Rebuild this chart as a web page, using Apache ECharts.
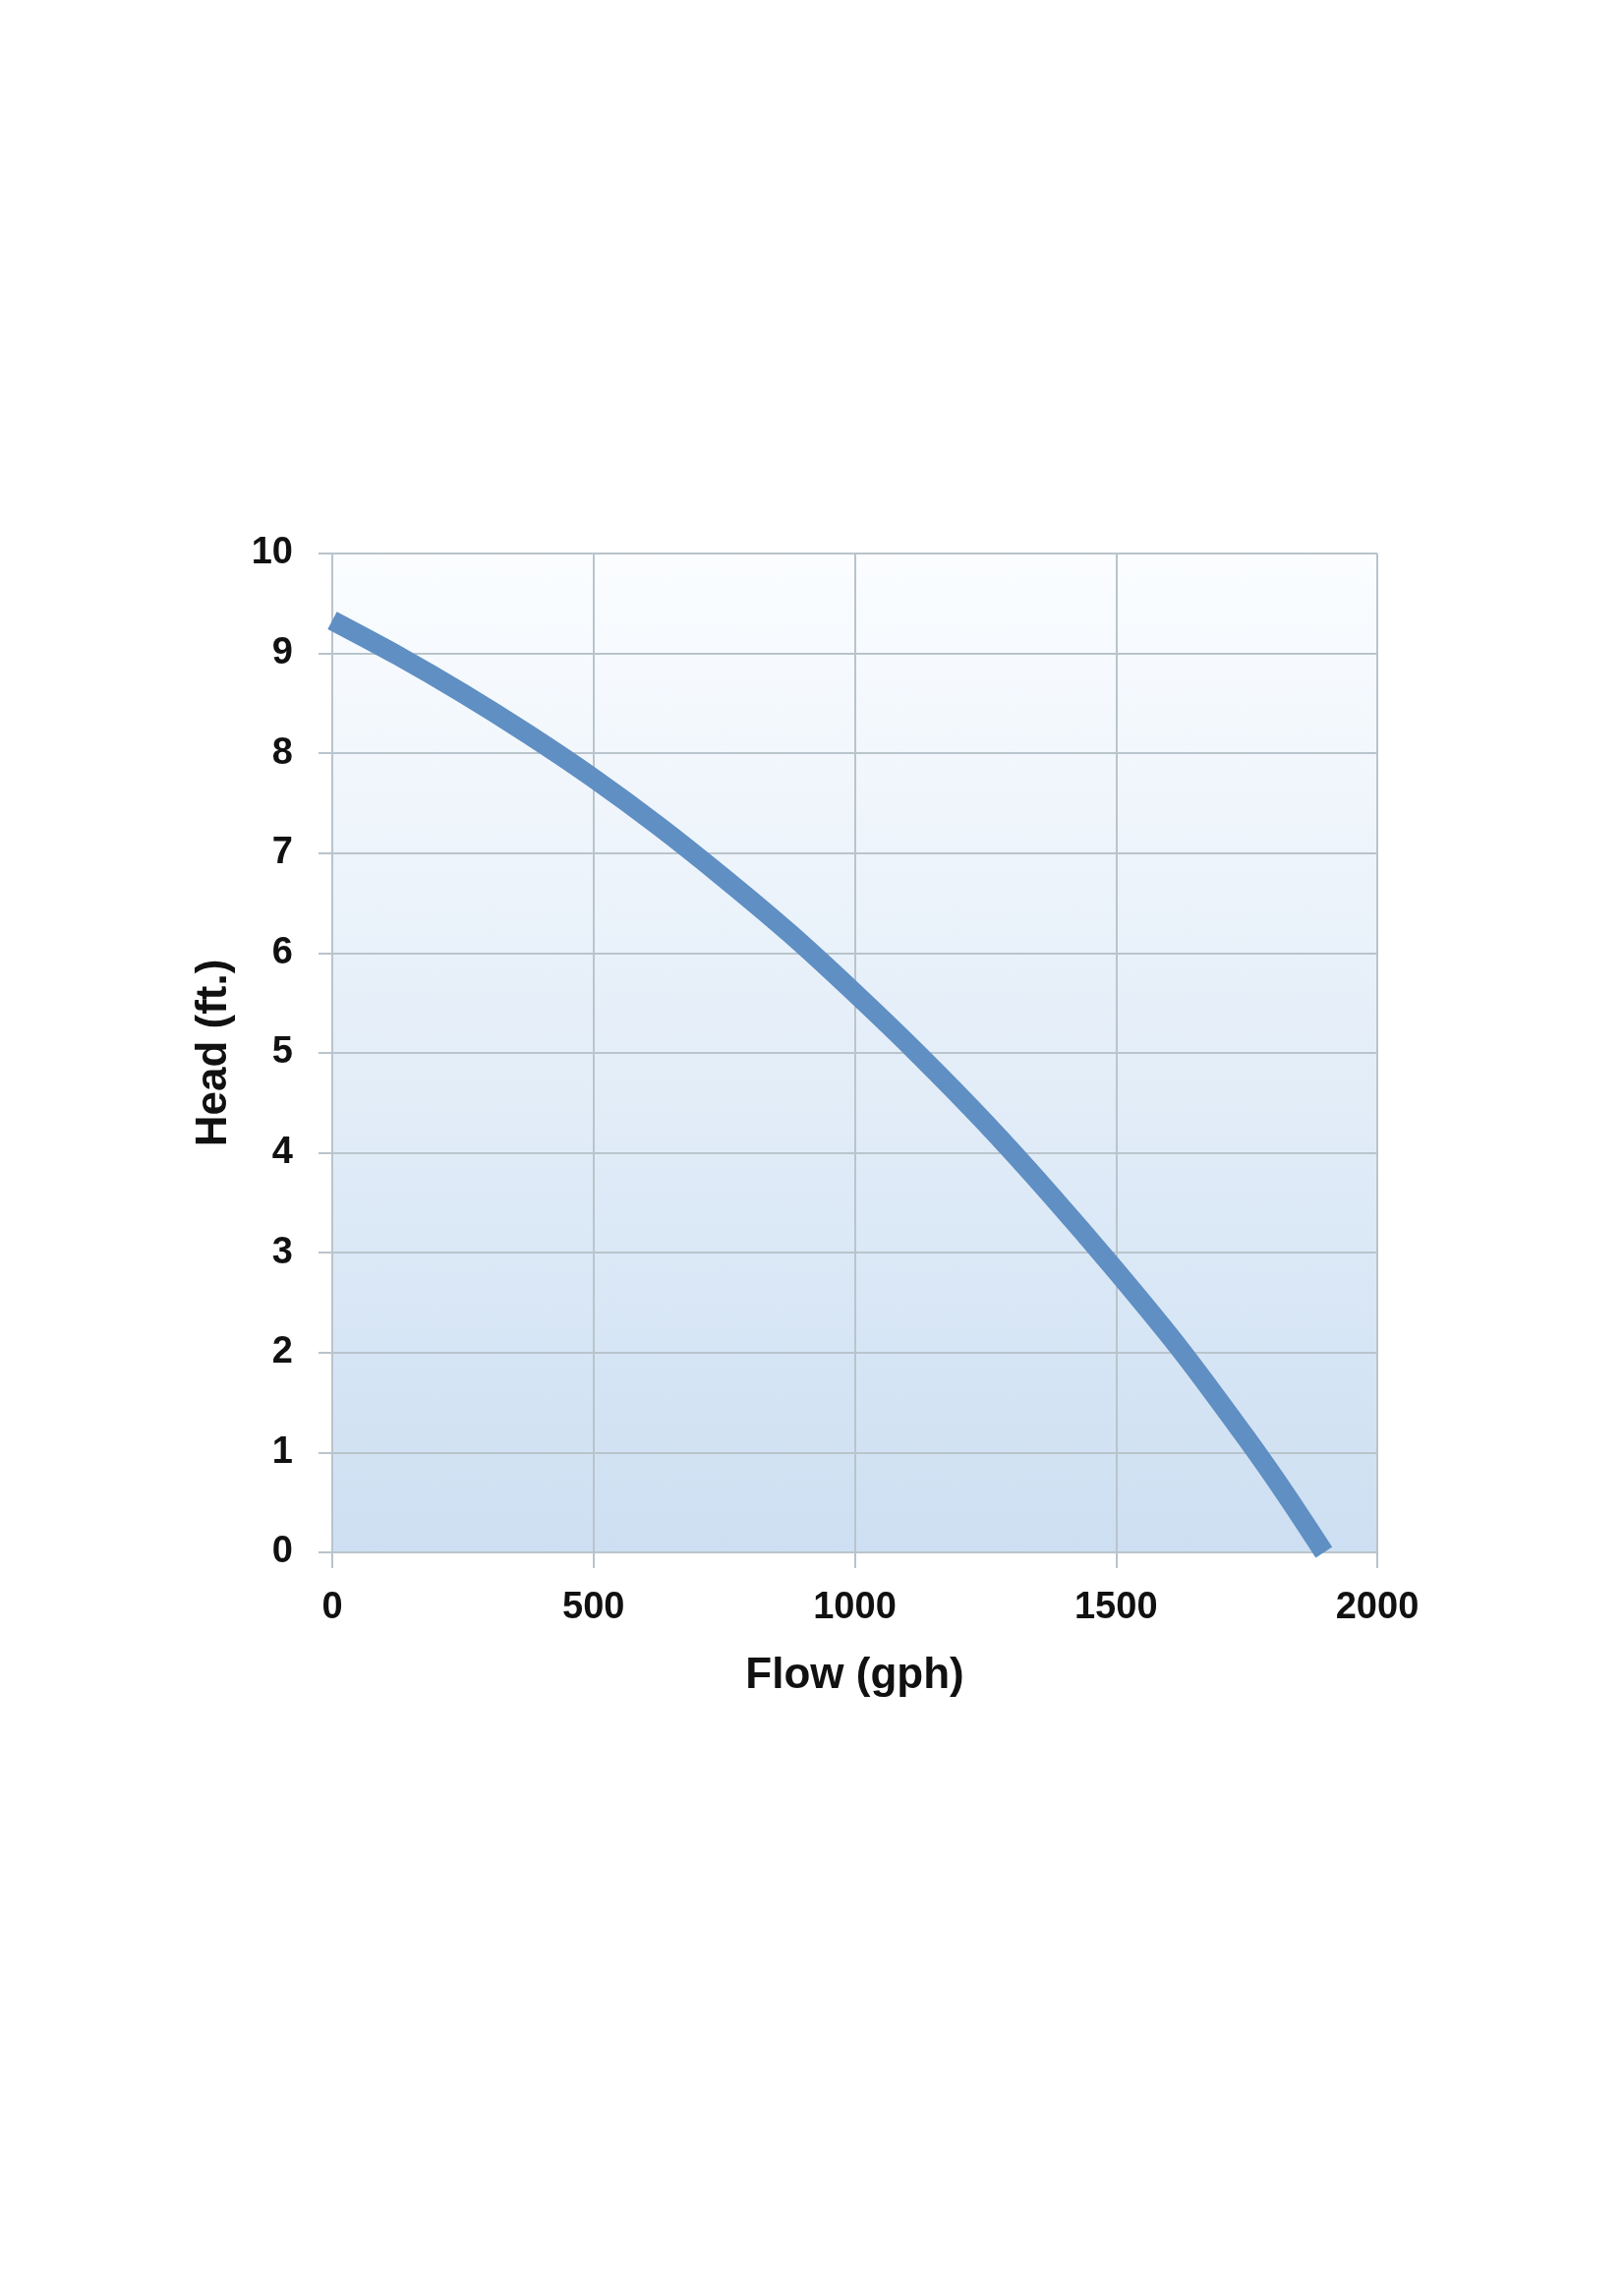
<!DOCTYPE html>
<html>
<head>
<meta charset="utf-8">
<script src="https://cdn.jsdelivr.net/npm/echarts@6/dist/echarts.min.js"></script>
<style>
html,body{margin:0;padding:0;background:#fff;}
#chart{width:1652px;height:2313px;}
</style>
</head>
<body>
<div id="chart"></div>
<script>
var flowGph = [0, 125, 250, 375, 500, 625, 750, 875, 1000, 1125, 1250, 1375, 1500, 1625, 1750, 1825, 1898];
var headFt  = [9.33, 8.98, 8.6, 8.19, 7.75, 7.27, 6.75, 6.2, 5.6, 4.97, 4.3, 3.58, 2.82, 2.02, 1.14, 0.58, 0];
var xTicks = [0, 500, 1000, 1500, 2000];
var yTicks = [0, 1, 2, 3, 4, 5, 6, 7, 8, 9, 10];
var xTitle = 'Flow (gph)';
var yTitle = 'Head (ft.)';

var chart = echarts.init(document.getElementById('chart'), null, {renderer: 'canvas'});
var gridColor = '#b9c4cc';
var fontFam = 'Liberation Sans, Arial, sans-serif';
var labelStyle = {color: '#111', fontFamily: fontFam, fontWeight: 'bold', fontSize: 38};
var pts = flowGph.map(function (q, i) { return [q, headFt[i]]; });

chart.setOption({
  backgroundColor: '#ffffff',
  animation: false,
  grid: {
    left: 338, top: 563, right: 251, bottom: 734,
    show: true,
    borderWidth: 0,
    backgroundColor: new echarts.graphic.LinearGradient(0, 0, 0, 1, [
      {offset: 0, color: '#fbfdff'},
      {offset: 1, color: '#cddff2'}
    ])
  },
  xAxis: {
    type: 'value',
    min: xTicks[0], max: xTicks[xTicks.length - 1], interval: 500,
    name: xTitle, nameLocation: 'middle', nameGap: 104,
    nameTextStyle: {color: '#111', fontFamily: fontFam, fontWeight: 'bold', fontSize: 44},
    axisLine: {show: true, lineStyle: {color: gridColor, width: 2}},
    axisTick: {show: true, length: 16, lineStyle: {color: gridColor, width: 2}},
    axisLabel: Object.assign({margin: 38, formatter: function (v) { return String(v); }}, labelStyle),
    splitLine: {show: true, lineStyle: {color: gridColor, width: 2}}
  },
  yAxis: {
    type: 'value',
    min: yTicks[0], max: yTicks[yTicks.length - 1], interval: 1,
    name: yTitle, nameLocation: 'middle', nameGap: 98,
    nameTextStyle: {color: '#111', fontFamily: fontFam, fontWeight: 'bold', fontSize: 44},
    axisLine: {show: true, lineStyle: {color: gridColor, width: 2}},
    axisTick: {show: true, length: 14, lineStyle: {color: gridColor, width: 2}},
    axisLabel: Object.assign({margin: 40, formatter: function (v) { return String(v); }}, labelStyle),
    splitLine: {show: true, lineStyle: {color: gridColor, width: 2}}
  },
  series: [{
    type: 'line',
    data: pts,
    smooth: 0.3,
    showSymbol: false,
    lineStyle: {color: '#5f8fc3', width: 20, cap: 'butt'},
    clip: true
  }]
});
</script>
</body>
</html>
